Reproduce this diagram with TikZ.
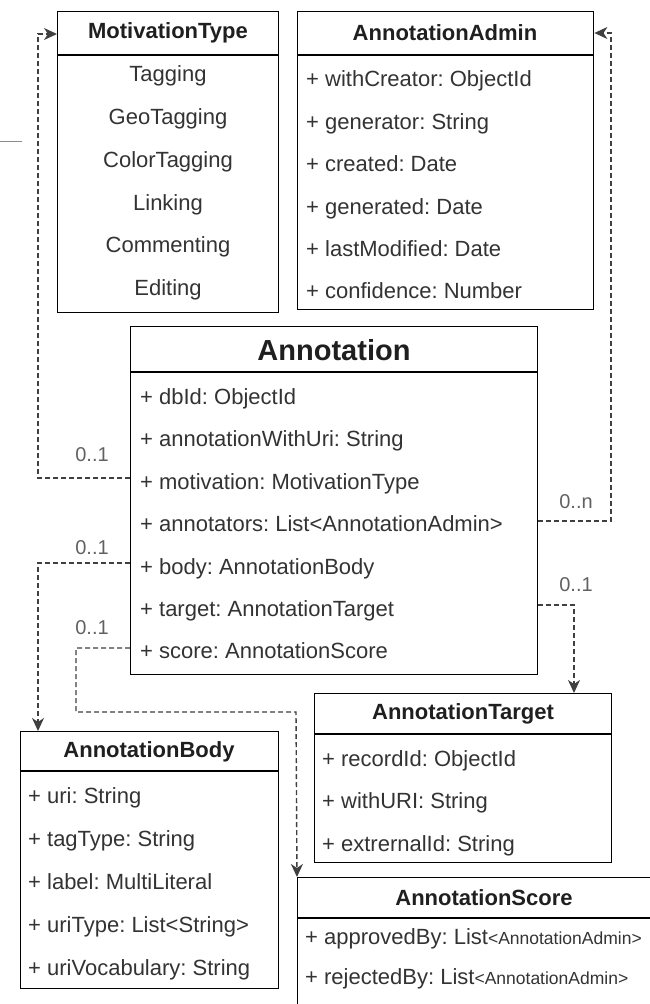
\documentclass[tikz,border=0pt]{standalone}
\usepackage{fontspec}
\setmainfont{Liberation Sans}
\usetikzlibrary{arrows.meta}
\frenchspacing
\begin{document}
\begin{tikzpicture}[x=1pt,y=-1pt,
  box/.style={draw=black, line width=1.4pt, anchor=north west, inner sep=0pt, fill=white},
  hline/.style={draw=black, line width=1.4pt},
  ttl/.style={font=\fontsize{22}{26}\selectfont\bfseries, text=black!88, inner sep=0pt},
  itm/.style={font=\fontsize{22}{26}\selectfont, text=black!80, anchor=west, inner sep=0pt, text height=16pt, text depth=4pt},
  citm/.style={font=\fontsize{22}{26}\selectfont, text=black!80, inner sep=0pt, text height=16pt, text depth=4pt},
  mult/.style={font=\fontsize{20}{24}\selectfont, text=black!62, inner sep=0pt},
  conn/.style={draw=black!75, line width=1.4pt, dash pattern=on 5pt off 3pt},
  tip/.style={-{Stealth[length=13pt,width=12pt,inset=4pt]}}
]
\useasboundingbox (0,0) rectangle (650,1004);
\draw[black!45, line width=1pt] (0,141) -- (22,141);

% MotivationType
\node[box, minimum width=221pt, minimum height=301pt] (mt) at (57,11) {};
\draw[hline] (mt.west |- 0,55) -- (mt.east |- 0,55);
\node[ttl] (mtt) at (168,33) {MotivationType};
\node[citm] (mt1) at (168,75) {Tagging};
\node[citm] (mt2) at (168,118) {GeoTagging};
\node[citm] (mt3) at (168,161) {ColorTagging};
\node[citm] (mt4) at (168,204) {Linking};
\node[citm] (mt5) at (168,246) {Commenting};
\node[citm] (mt6) at (168,289) {Editing};

% AnnotationAdmin
\node[box, minimum width=296pt, minimum height=298pt] (aa) at (297,11) {};
\draw[hline] (aa.west |- 0,55) -- (aa.east |- 0,55);
\node[ttl] (aat) at (445,33) {AnnotationAdmin};
\node[itm] (aa1) at (306,80) {+ withCreator: ObjectId};
\node[itm] (aa2) at (306,123) {+ generator: String};
\node[itm] (aa3) at (306,165) {+ created: Date};
\node[itm] (aa4) at (306,208) {+ generated: Date};
\node[itm] (aa5) at (306,250) {+ lastModified: Date};
\node[itm] (aa6) at (306,292) {+ confidence: Number};

% Annotation
\node[box, minimum width=407pt, minimum height=348pt] (ann) at (130,326) {};
\draw[hline] (ann.west |- 0,372) -- (ann.east |- 0,372);
\node[ttl, font=\fontsize{29}{33}\selectfont\bfseries] (annt) at (334,350) {Annotation};
\node[itm] (an1) at (140,398) {+ dbId: ObjectId};
\node[itm] (an2) at (140,440) {+ annotationWithUri: String};
\node[itm] (an3) at (140,483) {+ motivation: MotivationType};
\node[itm] (an4) at (140,525) {+ annotators: List<AnnotationAdmin>};
\node[itm] (an5) at (140,568) {+ body: AnnotationBody};
\node[itm] (an6) at (140,610) {+ target: AnnotationTarget};
\node[itm] (an7) at (140,652) {+ score: AnnotationScore};

% AnnotationTarget
\node[box, minimum width=297pt, minimum height=169pt] (at) at (314,693) {};
\draw[hline] (at.west |- 0,734) -- (at.east |- 0,734);
\node[ttl] (att) at (463,714) {AnnotationTarget};
\node[itm] (at1) at (322,760) {+ recordId: ObjectId};
\node[itm] (at2) at (322,802) {+ withURI: String};
\node[itm] (at3) at (322,845) {+ extrernalId: String};

% AnnotationBody
\node[box, minimum width=258pt, minimum height=257pt] (ab) at (20,731) {};
\draw[hline] (ab.west |- 0,771) -- (ab.east |- 0,771);
\node[ttl] (abt) at (149,752) {AnnotationBody};
\node[itm] (ab1) at (28,797) {+ uri: String};
\node[itm] (ab2) at (28,840) {+ tagType: String};
\node[itm] (ab3) at (28,883) {+ label: MultiLiteral};
\node[itm] (ab4) at (28,926) {+ uriType: List<String>};
\node[itm] (ab5) at (28,969) {+ uriVocabulary: String};

% AnnotationScore
\node[box, minimum width=380pt, minimum height=150pt] (as) at (297,877) {};
\draw[hline] (as.west |- 0,918) -- (as.east |- 0,918);
\node[ttl] (ast) at (484,898) {AnnotationScore};
\node[itm] (as1) at (305,938) {+ approvedBy: List{\fontsize{17.5}{19}\selectfont<AnnotationAdmin>}};
\node[itm] (as2) at (305,978) {+ rejectedBy: List{\fontsize{17.5}{19}\selectfont<AnnotationAdmin>}};

% connectors
\draw[conn,tip] (ann.west |- 0,478) -- (38,478) -- (38,34) -- (mt.west |- 0,34);
\draw[conn,tip] (ann.east |- 0,521) -- (611,521) -- (611,33) -- (aa.east |- 0,33);
\draw[conn,tip] (ann.west |- 0,563) -- (38,563) -- (ab.north -| 38,0);
\draw[conn,tip] (ann.east |- 0,605) -- (574,605) -- (at.north -| 574,0);
\draw[conn,tip] (ann.west |- 0,648) -- (76,648) -- (76,712) -- (296,712) -- (as.north west);

% multiplicities
\node[mult] (m1) at (92,455) {0..1};
\node[mult] (m2) at (576,502) {0..n};
\node[mult] (m3) at (92,548) {0..1};
\node[mult] (m4) at (576,585) {0..1};
\node[mult] (m5) at (92,628) {0..1};
\end{tikzpicture}
\end{document}
